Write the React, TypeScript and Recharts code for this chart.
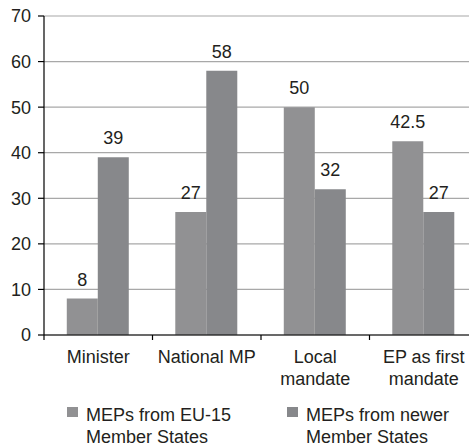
import { BarChart, Bar, XAxis, YAxis, CartesianGrid, Legend, LabelList } from 'recharts'

const categories = ['Minister', 'National MP', 'Local\nmandate', 'EP as first\nmandate']
const eu15 = [8, 27, 50, 42.5]
const newer = [39, 58, 32, 27]
const yTicks = [0, 10, 20, 30, 40, 50, 60, 70]
const seriesNames = ['MEPs from EU-15\nMember States', 'MEPs from newer\nMember States']

const data = categories.map((c, i) => ({ name: c, eu15: eu15[i], newer: newer[i] }))

const FONT = '"Liberation Sans", Arial, Helvetica, sans-serif'
const TEXT = '#231f20'
const COLORS = ['#919193', '#87888b']
const BAND = 434 / categories.length

const CategoryTick = (props: any) => {
  const { x, y, payload } = props
  const lines = String(payload.value).split('\n')
  const axisY = y - 8
  return (
    <g>
      <line x1={x - BAND / 2} x2={x - BAND / 2} y1={axisY} y2={axisY + 5} stroke="#000" strokeWidth={1.2} />
      <text x={x} y={y} textAnchor="middle" fontFamily={FONT} fontSize={18} fill={TEXT}>
        {lines.map((l, i) => (
          <tspan key={i} x={x} dy={i === 0 ? 20 : 22}>{l}</tspan>
        ))}
      </text>
    </g>
  )
}

const renderLegend = () => (
  <div style={{ display: 'flex', fontFamily: FONT, fontSize: 18, color: TEXT, lineHeight: '22px' }}>
    {seriesNames.map((n, i) => (
      <div key={i} style={{ display: 'flex', alignItems: 'flex-start', width: i === 0 ? 220 : 200 }}>
        <span style={{ display: 'inline-block', flex: 'none', width: 11, height: 10, background: COLORS[i], marginTop: 3, marginRight: 8 }} />
        <span>
          {n.split('\n').map((l, j) => (
            <div key={j}>{l}</div>
          ))}
        </span>
      </div>
    ))}
  </div>
)

export default function App() {
  return (
    <div style={{ position: 'absolute', left: 0, top: 0, width: 469, height: 447, overflow: 'hidden', background: '#fff' }}>
      <BarChart
        width={479}
        height={447}
        data={data}
        margin={{ top: 16, right: 1, left: 0, bottom: 0 }}
        barCategoryGap="21%"
        barGap={0}
      >
        <CartesianGrid vertical={false} stroke="#a8a8a8" strokeWidth={1.2} />
        <YAxis
          width={44}
          domain={[0, 70]}
          ticks={yTicks}
          interval={0}
          tickSize={6}
          tickMargin={7}
          axisLine={{ stroke: '#000', strokeWidth: 1.2 }}
          tickLine={{ stroke: '#000', strokeWidth: 1.2 }}
          tick={{ fontSize: 18, fontFamily: FONT, fill: TEXT }}
        />
        <XAxis
          dataKey="name"
          height={112}
          interval={0}
          tickLine={false}
          axisLine={{ stroke: '#000', strokeWidth: 1.2 }}
          tick={<CategoryTick />}
        />
        <Legend
          layout="horizontal"
          verticalAlign="middle"
          align="center"
          wrapperStyle={{ top: 404, left: 67, width: 420 }}
          content={renderLegend}
        />
        <Bar dataKey="eu15" fill={COLORS[0]} isAnimationActive={false}>
          <LabelList dataKey="eu15" position="top" offset={13} fill={TEXT} fontSize={18} fontFamily={FONT} />
        </Bar>
        <Bar dataKey="newer" fill={COLORS[1]} isAnimationActive={false}>
          <LabelList dataKey="newer" position="top" offset={13} fill={TEXT} fontSize={18} fontFamily={FONT} />
        </Bar>
      </BarChart>
    </div>
  )
}
